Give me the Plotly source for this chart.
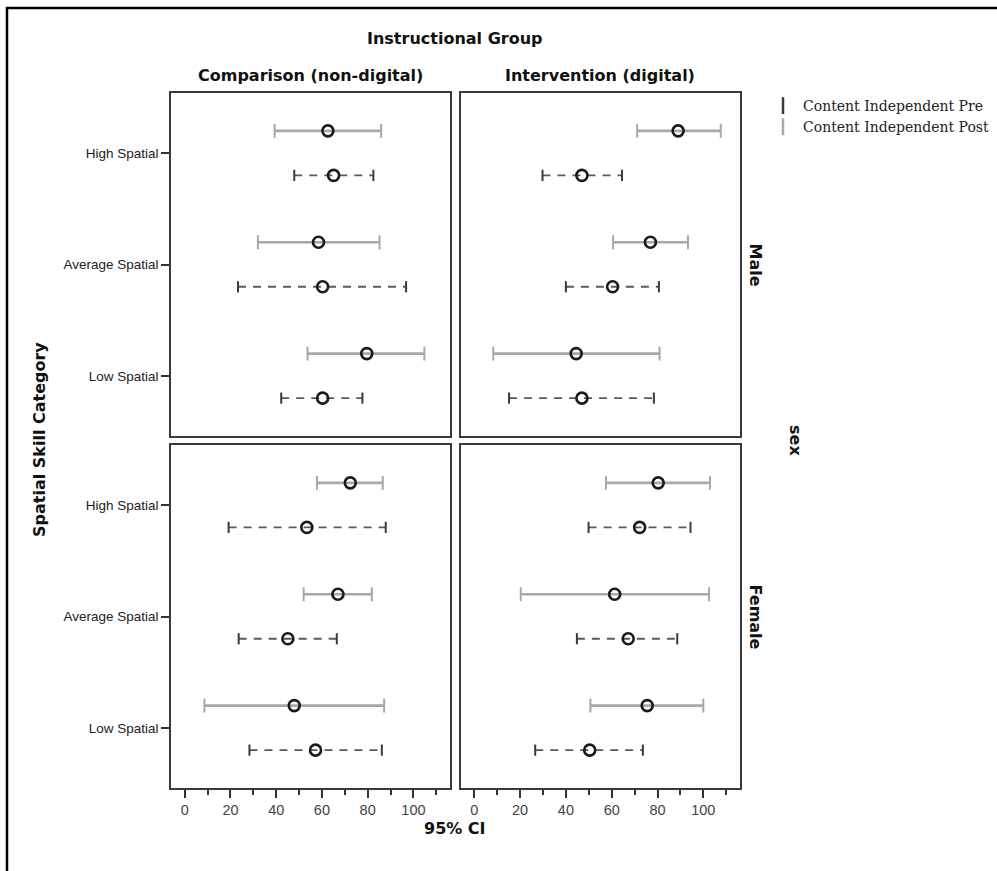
import plotly.graph_objects as go
from plotly.subplots import make_subplots

W, H = 997, 871

categories = ["High Spatial", "Average Spatial", "Low Spatial"]
groups = ["Comparison (non-digital)", "Intervention (digital)"]
sexes = ["Male", "Female"]
series_names = ["Content Independent Pre", "Content Independent Post"]

# Male, Comparison (non-digital)
male_comp_post_mean = [62.6, 58.5, 79.6]
male_comp_post_lo = [39.3, 32.0, 53.7]
male_comp_post_hi = [85.9, 85.2, 104.8]
male_comp_pre_mean = [65.1, 60.3, 60.3]
male_comp_pre_lo = [47.9, 23.3, 42.2]
male_comp_pre_hi = [82.5, 96.8, 77.7]
# Male, Intervention (digital)
male_int_post_mean = [89.0, 76.9, 44.5]
male_int_post_lo = [71.1, 60.6, 8.3]
male_int_post_hi = [107.6, 93.3, 80.9]
male_int_pre_mean = [47.0, 60.4, 47.0]
male_int_pre_lo = [29.8, 40.0, 15.2]
male_int_pre_hi = [64.5, 80.6, 78.4]
# Female, Comparison (non-digital)
fem_comp_post_mean = [72.4, 67.0, 47.9]
fem_comp_post_lo = [57.8, 52.0, 8.6]
fem_comp_post_hi = [86.6, 81.8, 87.2]
fem_comp_pre_mean = [53.4, 45.1, 57.2]
fem_comp_pre_lo = [19.2, 23.6, 28.3]
fem_comp_pre_hi = [87.9, 66.5, 86.2]
# Female, Intervention (digital)
fem_int_post_mean = [80.3, 61.3, 75.5]
fem_int_post_lo = [57.5, 20.3, 50.7]
fem_int_post_hi = [102.9, 102.5, 100.0]
fem_int_pre_mean = [72.2, 67.2, 50.4]
fem_int_pre_lo = [49.9, 44.8, 26.6]
fem_int_pre_hi = [94.4, 88.6, 73.6]

x_tick_vals = [0, 20, 40, 60, 80, 100]

panels = {
    (1, 1): dict(pre=(male_comp_pre_mean, male_comp_pre_lo, male_comp_pre_hi),
                 post=(male_comp_post_mean, male_comp_post_lo, male_comp_post_hi)),
    (1, 2): dict(pre=(male_int_pre_mean, male_int_pre_lo, male_int_pre_hi),
                 post=(male_int_post_mean, male_int_post_lo, male_int_post_hi)),
    (2, 1): dict(pre=(fem_comp_pre_mean, fem_comp_pre_lo, fem_comp_pre_hi),
                 post=(fem_comp_post_mean, fem_comp_post_lo, fem_comp_post_hi)),
    (2, 2): dict(pre=(fem_int_pre_mean, fem_int_pre_lo, fem_int_pre_hi),
                 post=(fem_int_post_mean, fem_int_post_lo, fem_int_post_hi)),
}

FONT = "Liberation Sans, Arial, sans-serif"
BOLD_FONT = "DejaVu Sans, Verdana, sans-serif"
POST_COLOR = "#a8a8a8"
PRE_COLOR = "#5a5a5a"
PRE_CAP = "#3a3a3a"
MARK_COLOR = "#1a1a1a"
OFFSET = {"post": -0.2, "pre": 0.2}

styles = {
    "post": dict(line=dict(color=POST_COLOR, width=2.6), cap=POST_COLOR, capsize=10),
    "pre": dict(line=dict(color=PRE_COLOR, width=1.8, dash="8px,7px"), cap=PRE_CAP, capsize=8),
}

fig = make_subplots(rows=2, cols=2)

for (r, c), data in panels.items():
    for key in ["post", "pre"]:
        mean, lo, hi = data[key]
        st = styles[key]
        pos = [i + OFFSET[key] for i in range(len(categories))]
        lx, ly = [], []
        for i in range(len(categories)):
            lx += [lo[i], hi[i], None]
            ly += [pos[i], pos[i], None]
        fig.add_trace(go.Scatter(x=lx, y=ly, mode="lines", line=st["line"],
                                 showlegend=False, hoverinfo="skip"), row=r, col=c)
        fig.add_trace(go.Scatter(x=lo + hi, y=pos + pos, mode="markers",
                                 marker=dict(symbol="line-ns-open", size=st["capsize"],
                                             color=st["cap"], line=dict(width=2)),
                                 showlegend=False, hoverinfo="skip"), row=r, col=c)
        fig.add_trace(go.Scatter(x=mean, y=pos, mode="markers",
                                 marker=dict(symbol="circle-open", size=11, color=MARK_COLOR,
                                             line=dict(width=2.6)),
                                 showlegend=False,
                                 name=series_names[0] if key == "pre" else series_names[1]),
                      row=r, col=c)

# legend entries
fig.add_trace(go.Scatter(x=[None], y=[None], mode="markers", name=series_names[0],
                         marker=dict(symbol="line-ns-open", size=12, color=PRE_CAP,
                                     line=dict(width=2.5))), row=1, col=1)
fig.add_trace(go.Scatter(x=[None], y=[None], mode="markers", name=series_names[1],
                         marker=dict(symbol="line-ns-open", size=12, color=POST_COLOR,
                                     line=dict(width=2.5))), row=1, col=1)

xdom = {1: [171 / W, 450 / W], 2: [460.5 / W, 740 / W]}
ydom = {1: [1 - 436 / H, 1 - 93 / H], 2: [1 - 788 / H, 1 - 445 / H]}

for r in (1, 2):
    for c in (1, 2):
        fig.update_xaxes(domain=xdom[c], range=[-6, 116], showgrid=False, zeroline=False,
                         showline=True, mirror=True, linecolor="#3a3a3a", linewidth=1.5,
                         tickvals=x_tick_vals, row=r, col=c,
                         ticks="outside" if r == 2 else "", ticklen=8, tickwidth=1.5,
                         tickcolor="#333333", showticklabels=(r == 2),
                         tickfont=dict(family=FONT, size=14.5, color="#444444"),
                         minor=dict(dtick=10, tick0=0, ticks="outside" if r == 2 else "",
                                    ticklen=5, tickwidth=1.5, tickcolor="#333333"))
        fig.update_yaxes(domain=ydom[r], range=[2.54, -0.54], showgrid=False, zeroline=False,
                         showline=True, mirror=True, linecolor="#3a3a3a", linewidth=1.5,
                         tickvals=list(range(len(categories))), ticktext=categories,
                         ticks="outside" if c == 1 else "", ticklen=8, tickwidth=1.5,
                         tickcolor="#333333", showticklabels=(c == 1),
                         tickfont=dict(family=FONT, size=13.5, color="#222222"),
                         row=r, col=c)

def ann(text, xpx, ypx, size=16, angle=0):
    return dict(text=f"<b>{text}</b>", x=xpx / W, y=1 - ypx / H, xref="paper", yref="paper",
                showarrow=False, textangle=angle, xanchor="center", yanchor="middle",
                font=dict(family=BOLD_FONT, size=size, color="#111111"))

annotations = [
    ann("Instructional Group", 455, 38),
    ann(groups[0], 310.5, 75),
    ann(groups[1], 600, 75),
    ann(sexes[0], 755, 264.5, angle=90),
    ann(sexes[1], 755, 616.5, angle=90),
    ann("sex", 795, 440, angle=90),
    ann("Spatial Skill Category", 40, 440, angle=-90),
    ann("95% CI", 455, 828),
]

fig.update_layout(
    width=W, height=H,
    margin=dict(l=0, r=0, t=0, b=0, autoexpand=False),
    paper_bgcolor="white", plot_bgcolor="white",
    annotations=annotations,
    showlegend=True,
    legend=dict(x=763 / W, y=1 - 90 / H, xanchor="left", yanchor="top",
                font=dict(family="DejaVu Serif, serif", size=14, color="#222222"),
                bgcolor="rgba(0,0,0,0)", tracegroupgap=0, itemwidth=30),
    shapes=[dict(type="rect", xref="paper", yref="paper", x0=7 / W, y0=1 - 8 / H,
                 x1=1.05, y1=-0.05, line=dict(color="black", width=2.5))],
)

fig.write_html("out.html", config={"displayModeBar": False},
               post_script="document.body.style.margin='0px';")
